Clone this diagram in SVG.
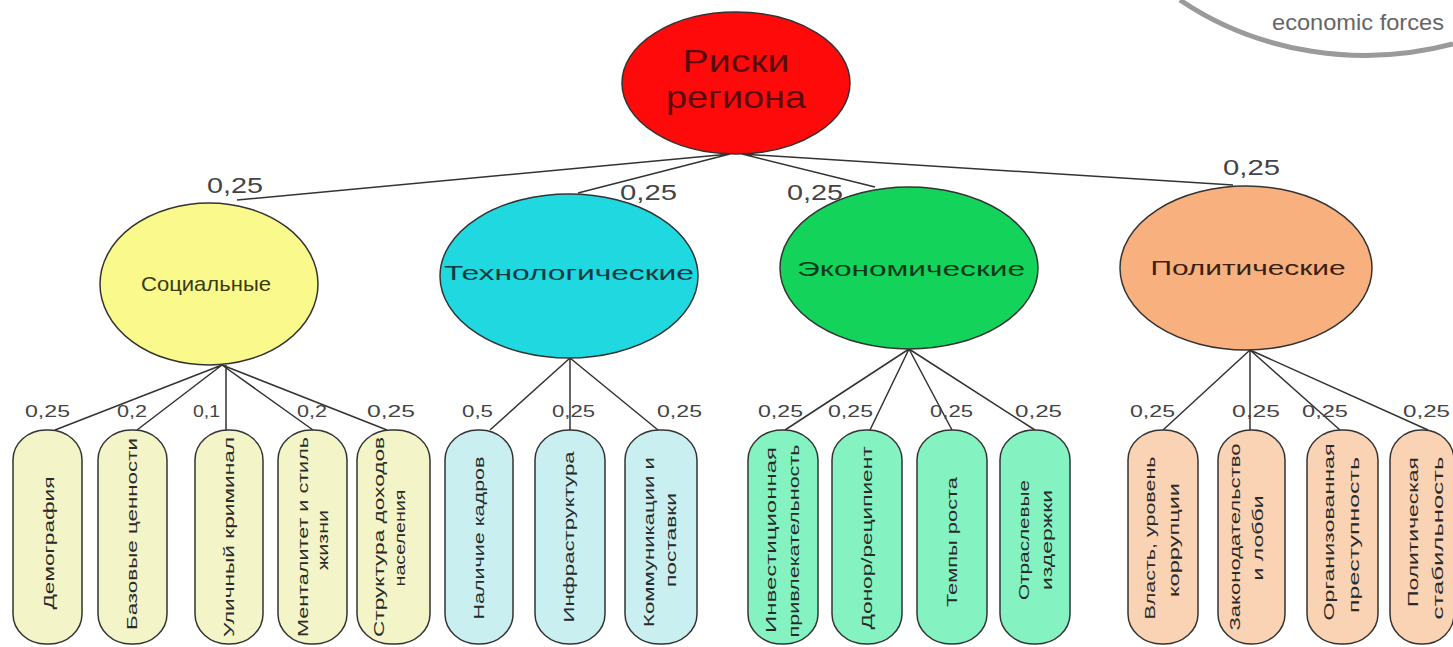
<svg xmlns="http://www.w3.org/2000/svg" width="1453" height="647" viewBox="0 0 1453 647">
<style>
text{font-family:"Liberation Sans",Arial,sans-serif}
.edge{stroke:#333;stroke-width:1.5;fill:none}
.w{font-size:17px;fill:#444}
.wt{font-size:22px;fill:#444}
.leaf{stroke:#333;stroke-width:1.5}
.lt{font-size:15px;fill:#2a2a2a}
.cat{stroke:#333;stroke-width:1.5}
.ct{font-size:21px}
.s{fill:#f3f5c8}.t{fill:#c9eff0}.e{fill:#85f2c2}.p{fill:#fad2b4}
</style>
<g id="watermark">
<path d="M1180,0 A300,260 0 0 0 1453,44" fill="none" stroke="#9a9a9a" stroke-width="5"/>
<text x="1272" y="30" font-size="22" fill="#666" textLength="172" lengthAdjust="spacingAndGlyphs">economic forces</text>
</g>
<g id="connectors">
<path class="edge" d="M730,154 L237,200 M730,154 L578,193 M742,154 L875,187 M742,154 L1233,185"/>
<path class="edge" d="M222,365 L55,430 M222,365 L137,430 M226,365 L226,430 M222,365 L313,430 M222,365 L387,430"/>
<path class="edge" d="M570,358 L490,430 M570,358 L570,430 M570,358 L658,430"/>
<path class="edge" d="M909,349 L785,430 M909,349 L870,430 M909,349 L952,430 M909,349 L1035,430"/>
<path class="edge" d="M1250,350 L1163,430 M1250,350 L1250,430 M1250,350 L1340,430 M1250,350 L1428,430"/>
</g>
<g id="weights">
<text class="wt" x="207" y="193" textLength="56" lengthAdjust="spacingAndGlyphs">0,25</text>
<text class="wt" x="620" y="200" textLength="57" lengthAdjust="spacingAndGlyphs">0,25</text>
<text class="wt" x="787" y="200" textLength="56" lengthAdjust="spacingAndGlyphs">0,25</text>
<text class="wt" x="1223" y="175" textLength="57" lengthAdjust="spacingAndGlyphs">0,25</text>
<text class="w" x="25" y="417" textLength="45" lengthAdjust="spacingAndGlyphs">0,25</text>
<text class="w" x="117" y="417" textLength="30" lengthAdjust="spacingAndGlyphs">0,2</text>
<text class="w" x="193" y="417" textLength="27" lengthAdjust="spacingAndGlyphs">0,1</text>
<text class="w" x="297" y="417" textLength="30" lengthAdjust="spacingAndGlyphs">0,2</text>
<text class="w" x="367" y="417" textLength="48" lengthAdjust="spacingAndGlyphs">0,25</text>
<text class="w" x="462" y="417" textLength="31" lengthAdjust="spacingAndGlyphs">0,5</text>
<text class="w" x="552" y="417" textLength="43" lengthAdjust="spacingAndGlyphs">0,25</text>
<text class="w" x="657" y="417" textLength="45" lengthAdjust="spacingAndGlyphs">0,25</text>
<text class="w" x="758" y="417" textLength="45" lengthAdjust="spacingAndGlyphs">0,25</text>
<text class="w" x="828" y="417" textLength="45" lengthAdjust="spacingAndGlyphs">0,25</text>
<text class="w" x="930" y="417" textLength="43" lengthAdjust="spacingAndGlyphs">0,25</text>
<text class="w" x="1015" y="417" textLength="47" lengthAdjust="spacingAndGlyphs">0,25</text>
<text class="w" x="1130" y="417" textLength="45" lengthAdjust="spacingAndGlyphs">0,25</text>
<text class="w" x="1232" y="417" textLength="48" lengthAdjust="spacingAndGlyphs">0,25</text>
<text class="w" x="1302" y="417" textLength="46" lengthAdjust="spacingAndGlyphs">0,25</text>
<text class="w" x="1403" y="417" textLength="47" lengthAdjust="spacingAndGlyphs">0,25</text>
</g>
<g id="root">
<ellipse cx="736" cy="83" rx="114" ry="71" fill="#ff0a0a" stroke="#333" stroke-width="1.5"/>
<text x="736" y="72" font-size="32" fill="#5a0a0a" text-anchor="middle" textLength="107" lengthAdjust="spacingAndGlyphs">Риски</text>
<text x="736" y="108" font-size="32" fill="#5a0a0a" text-anchor="middle" textLength="140" lengthAdjust="spacingAndGlyphs">региона</text>
</g>
<g id="social">
<ellipse class="cat" cx="209" cy="284" rx="109" ry="81" fill="#fafa8c"/>
<text class="ct" x="206" y="291" fill="#3a3a10" text-anchor="middle" textLength="130" lengthAdjust="spacingAndGlyphs">Социальные</text>
</g>
<g id="tech">
<ellipse class="cat" cx="569" cy="276" rx="129" ry="82" fill="#1fd8e0"/>
<text class="ct" x="569" y="280" fill="#0f3a40" text-anchor="middle" textLength="250" lengthAdjust="spacingAndGlyphs">Технологические</text>
</g>
<g id="econ">
<ellipse class="cat" cx="909" cy="268" rx="129" ry="81" fill="#13d35b"/>
<text class="ct" x="911" y="276" fill="#0a3a1a" text-anchor="middle" textLength="228" lengthAdjust="spacingAndGlyphs">Экономические</text>
</g>
<g id="polit">
<ellipse class="cat" cx="1246" cy="268" rx="126" ry="82" fill="#f8b07e"/>
<text class="ct" x="1248" y="275" fill="#3a2010" text-anchor="middle" textLength="195" lengthAdjust="spacingAndGlyphs">Политические</text>
</g>
<g id="leaf-demography"><rect class="leaf s" x="13" y="430" width="69" height="214" rx="33" ry="30"/>
<text class="lt" transform="translate(48,543) rotate(-90)" text-anchor="middle" dominant-baseline="central" textLength="133" lengthAdjust="spacingAndGlyphs">Демография</text></g>
<g id="leaf-values"><rect class="leaf s" x="98" y="430" width="69" height="214" rx="33" ry="30"/>
<text class="lt" transform="translate(131,534) rotate(-90)" text-anchor="middle" dominant-baseline="central" textLength="192" lengthAdjust="spacingAndGlyphs">Базовые ценности</text></g>
<g id="leaf-crime"><rect class="leaf s" x="195" y="430" width="68" height="214" rx="33" ry="30"/>
<text class="lt" transform="translate(228,537) rotate(-90)" text-anchor="middle" dominant-baseline="central" textLength="200" lengthAdjust="spacingAndGlyphs">Уличный криминал</text></g>
<g id="leaf-mentality"><rect class="leaf s" x="278" y="430" width="69" height="214" rx="33" ry="30"/>
<text class="lt" transform="translate(302,537) rotate(-90)" text-anchor="middle" dominant-baseline="central" textLength="200" lengthAdjust="spacingAndGlyphs">Менталитет и стиль</text>
<text class="lt" transform="translate(322,540) rotate(-90)" text-anchor="middle" dominant-baseline="central" textLength="60" lengthAdjust="spacingAndGlyphs">жизни</text></g>
<g id="leaf-income"><rect class="leaf s" x="357" y="430" width="73" height="214" rx="34" ry="30"/>
<text class="lt" transform="translate(378,537) rotate(-90)" text-anchor="middle" dominant-baseline="central" textLength="200" lengthAdjust="spacingAndGlyphs">Структура доходов</text>
<text class="lt" transform="translate(399,538) rotate(-90)" text-anchor="middle" dominant-baseline="central" textLength="97" lengthAdjust="spacingAndGlyphs">населения</text></g>
<g id="leaf-staff"><rect class="leaf t" x="445" y="430" width="68" height="214" rx="33" ry="30"/>
<text class="lt" transform="translate(478,538) rotate(-90)" text-anchor="middle" dominant-baseline="central" textLength="163" lengthAdjust="spacingAndGlyphs">Наличие кадров</text></g>
<g id="leaf-infra"><rect class="leaf t" x="535" y="430" width="70" height="214" rx="34" ry="30"/>
<text class="lt" transform="translate(568,537) rotate(-90)" text-anchor="middle" dominant-baseline="central" textLength="171" lengthAdjust="spacingAndGlyphs">Инфраструктура</text></g>
<g id="leaf-comm"><rect class="leaf t" x="625" y="430" width="72" height="214" rx="34" ry="30"/>
<text class="lt" transform="translate(648,542) rotate(-90)" text-anchor="middle" dominant-baseline="central" textLength="170" lengthAdjust="spacingAndGlyphs">Коммуникации и</text>
<text class="lt" transform="translate(670,540) rotate(-90)" text-anchor="middle" dominant-baseline="central" textLength="94" lengthAdjust="spacingAndGlyphs">поставки</text></g>
<g id="leaf-invest"><rect class="leaf e" x="748" y="430" width="70" height="214" rx="34" ry="30"/>
<text class="lt" transform="translate(770,540) rotate(-90)" text-anchor="middle" dominant-baseline="central" textLength="186" lengthAdjust="spacingAndGlyphs">Инвестиционная</text>
<text class="lt" transform="translate(793,541) rotate(-90)" text-anchor="middle" dominant-baseline="central" textLength="193" lengthAdjust="spacingAndGlyphs">привлекательность</text></g>
<g id="leaf-donor"><rect class="leaf e" x="832" y="430" width="70" height="214" rx="34" ry="30"/>
<text class="lt" transform="translate(866,538) rotate(-90)" text-anchor="middle" dominant-baseline="central" textLength="183" lengthAdjust="spacingAndGlyphs">Донор/реципиент</text></g>
<g id="leaf-growth"><rect class="leaf e" x="917" y="430" width="70" height="214" rx="34" ry="30"/>
<text class="lt" transform="translate(951,542) rotate(-90)" text-anchor="middle" dominant-baseline="central" textLength="130" lengthAdjust="spacingAndGlyphs">Темпы роста</text></g>
<g id="leaf-costs"><rect class="leaf e" x="1000" y="430" width="70" height="214" rx="34" ry="30"/>
<text class="lt" transform="translate(1023,540) rotate(-90)" text-anchor="middle" dominant-baseline="central" textLength="120" lengthAdjust="spacingAndGlyphs">Отраслевые</text>
<text class="lt" transform="translate(1046,540) rotate(-90)" text-anchor="middle" dominant-baseline="central" textLength="100" lengthAdjust="spacingAndGlyphs">издержки</text></g>
<g id="leaf-power"><rect class="leaf p" x="1128" y="430" width="70" height="214" rx="34" ry="30"/>
<text class="lt" transform="translate(1149,538) rotate(-90)" text-anchor="middle" dominant-baseline="central" textLength="163" lengthAdjust="spacingAndGlyphs">Власть, уровень</text>
<text class="lt" transform="translate(1173,540) rotate(-90)" text-anchor="middle" dominant-baseline="central" textLength="114" lengthAdjust="spacingAndGlyphs">коррупции</text></g>
<g id="leaf-law"><rect class="leaf p" x="1218" y="430" width="67" height="214" rx="33" ry="30"/>
<text class="lt" transform="translate(1234,537) rotate(-90)" text-anchor="middle" dominant-baseline="central" textLength="187" lengthAdjust="spacingAndGlyphs">Законодательство</text>
<text class="lt" transform="translate(1257,538) rotate(-90)" text-anchor="middle" dominant-baseline="central" textLength="85" lengthAdjust="spacingAndGlyphs">и лобби</text></g>
<g id="leaf-orgcrime"><rect class="leaf p" x="1307" y="430" width="71" height="214" rx="34" ry="30"/>
<text class="lt" transform="translate(1328,532) rotate(-90)" text-anchor="middle" dominant-baseline="central" textLength="177" lengthAdjust="spacingAndGlyphs">Организованная</text>
<text class="lt" transform="translate(1353,535) rotate(-90)" text-anchor="middle" dominant-baseline="central" textLength="156" lengthAdjust="spacingAndGlyphs">преступность</text></g>
<g id="leaf-stability"><rect class="leaf p" x="1390" y="430" width="64" height="214" rx="31" ry="30"/>
<text class="lt" transform="translate(1412,532) rotate(-90)" text-anchor="middle" dominant-baseline="central" textLength="150" lengthAdjust="spacingAndGlyphs">Политическая</text>
<text class="lt" transform="translate(1437,538) rotate(-90)" text-anchor="middle" dominant-baseline="central" textLength="163" lengthAdjust="spacingAndGlyphs">стабильность</text></g>
</svg>
